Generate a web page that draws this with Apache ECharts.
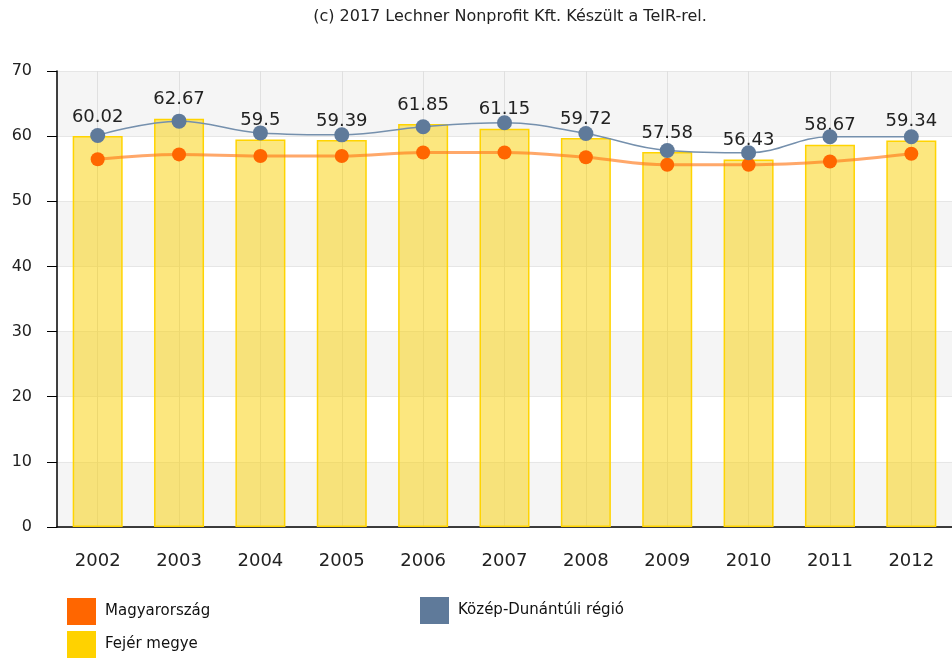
<!DOCTYPE html>
<html>
<head>
<meta charset="utf-8">
<script src="https://cdn.jsdelivr.net/npm/echarts@6/dist/echarts.min.js"></script>
<style>
  html, body { margin: 0; padding: 0; background: #fff; }
  #chart { width: 952px; height: 659px; }
</style>
</head>
<body>
<div id="chart"></div>
<script>
const years = ['2002', '2003', '2004', '2005', '2006', '2007', '2008', '2009', '2010', '2011', '2012'];
// Fejér megye (bars, labelled)
const fejer = [60.02, 62.67, 59.5, 59.39, 61.85, 61.15, 59.72, 57.58, 56.43, 58.67, 59.34];
// Közép-Dunántúli régió
const kozep = [60.1, 62.3, 60.5, 60.2, 61.45, 62.05, 60.4, 57.8, 57.45, 59.9, 59.9];
// Magyarország
const magyar = [56.45, 57.2, 56.95, 56.95, 57.5, 57.5, 56.75, 55.6, 55.6, 56.1, 57.3];
const yTicks = [0, 10, 20, 30, 40, 50, 60, 70];

const font = 'DejaVu Sans';
const chart = echarts.init(document.getElementById('chart'));

function legendAt(name, left, top, color) {
  return {
    data: [{ name: name, itemStyle: { color: color, borderWidth: 0 } }],
    left: left,
    top: top,
    padding: 0,
    icon: 'rect',
    itemWidth: 29,
    itemHeight: 27,
    textStyle: { fontFamily: font, fontSize: 15, color: '#111', padding: [0, 0, 0, 4] }
  };
}

chart.setOption({
  animation: false,
  title: {
    text: '(c) 2017 Lechner Nonprofit Kft. Készült a TeIR-rel.',
    left: 510,
    textAlign: 'center',
    top: 9,
    padding: 0,
    textStyle: { fontFamily: font, fontSize: 16, fontWeight: 'normal', color: '#222' }
  },
  legend: [
    legendAt('Magyarország', 67, 598, '#ff6600'),
    legendAt('Fejér megye', 67, 631, '#ffd200'),
    legendAt('Közép-Dunántúli régió', 420, 597, '#5f7a9a')
  ],
  grid: { left: 57, top: 71, width: 903, height: 456 },
  xAxis: {
    type: 'category',
    data: years,
    boundaryGap: true,
    axisLine: { lineStyle: { color: '#000', width: 1.5 } },
    axisTick: { alignWithLabel: true, length: 8, lineStyle: { color: '#000' } },
    axisLabel: { fontFamily: font, fontSize: 18, color: '#222', margin: 25 },
    splitLine: { show: false }
  },
  yAxis: {
    type: 'value',
    min: yTicks[0],
    max: yTicks[yTicks.length - 1],
    interval: 10,
    axisLine: { show: true, lineStyle: { color: '#000', width: 1.5 } },
    axisTick: { show: true, length: 10, lineStyle: { color: '#000' } },
    axisLabel: { fontFamily: font, fontSize: 16, color: '#222', margin: 25 },
    splitLine: { lineStyle: { color: '#e6e6e6' } },
    splitArea: { show: true, areaStyle: { color: ['#f5f5f5', '#ffffff'] } }
  },
  series: [
    {
      // vertical grid lines through the category centres, kept under the bars
      name: 'grid',
      type: 'line',
      data: [],
      silent: true,
      z: 0,
      markLine: {
        z: 0,
        silent: true,
        symbol: 'none',
        label: { show: false },
        lineStyle: { color: '#e0e0e0', width: 1, type: 'solid' },
        data: years.map(y => ({ xAxis: y }))
      }
    },
    {
      name: 'Fejér megye',
      type: 'bar',
      data: fejer,
      barWidth: 50,
      itemStyle: {
        color: 'rgba(250, 208, 0, 0.5)',
        borderColor: '#ffd400',
        borderWidth: 1.5
      },
      label: {
        show: true,
        position: 'top',
        distance: 10,
        fontFamily: font,
        fontSize: 18,
        color: '#222'
      },
      z: 2
    },
    {
      name: 'Magyarország',
      type: 'line',
      data: magyar,
      smooth: 0.4,
      symbol: 'circle',
      symbolSize: 14,
      itemStyle: { color: '#ff6600' },
      lineStyle: { color: '#ff7a1a', width: 3, opacity: 0.65 },
      z: 3
    },
    {
      name: 'Közép-Dunántúli régió',
      type: 'line',
      data: kozep,
      smooth: 0.4,
      symbol: 'circle',
      symbolSize: 15,
      itemStyle: { color: '#5f7a9a' },
      lineStyle: { color: '#7590ad', width: 1.5 },
      z: 4
    }
  ]
});
</script>
</body>
</html>
